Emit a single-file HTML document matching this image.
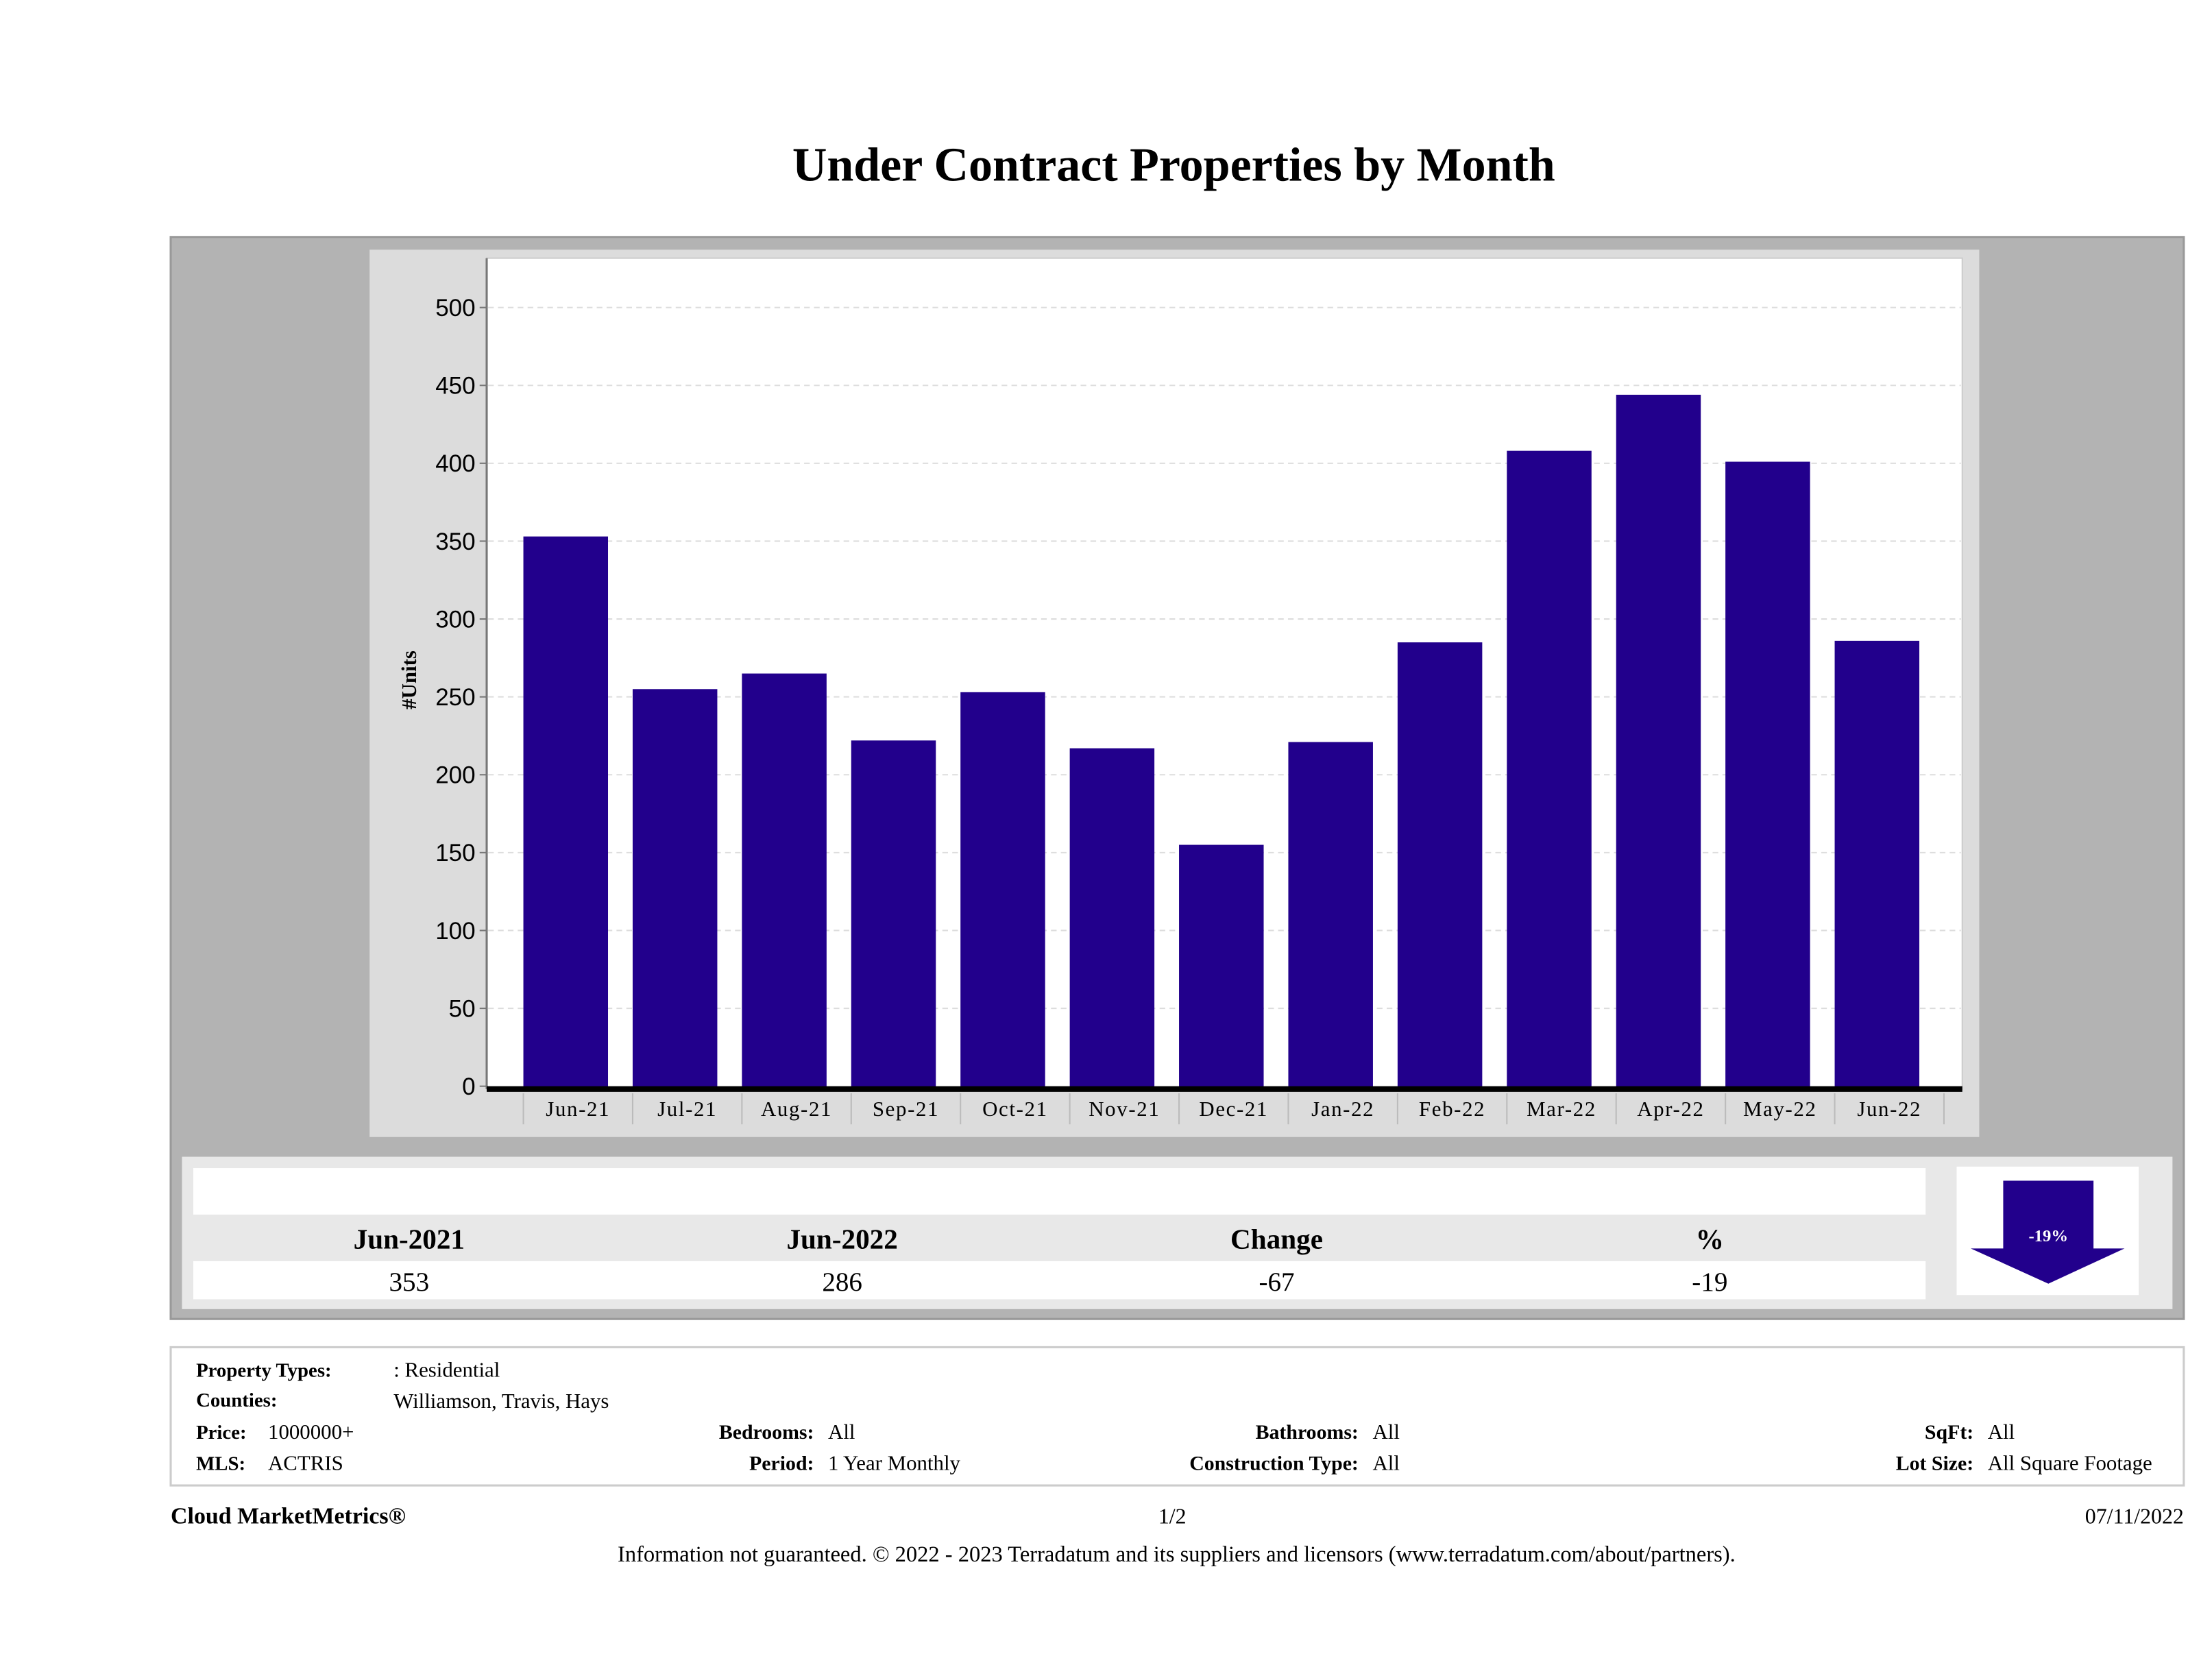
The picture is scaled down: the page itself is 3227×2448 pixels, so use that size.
<!DOCTYPE html>
<html><head><meta charset="utf-8"><style>
html,body{margin:0;padding:0;background:#fff;}
svg{display:block;}
.serif{font-family:"Liberation Serif",serif;}
.sans{font-family:"Liberation Sans",sans-serif;}
</style></head>
<body>
<svg id="page" width="3227" height="2448" viewBox="0 0 1568 1189.5" preserveAspectRatio="none" xmlns="http://www.w3.org/2000/svg">
<text class="serif" x="832" y="128" text-anchor="middle" font-size="34" font-weight="bold" fill="#000">Under Contract Properties by Month</text>
<rect x="121" y="168" width="1427" height="767" fill="#b3b3b3" stroke="#999" stroke-width="1.5"/>
<rect x="262" y="177" width="1141" height="629" fill="#dcdcdc"/>
<rect x="345" y="183" width="1046" height="589" fill="#fff" stroke="#ccc"/>
<line x1="345" y1="183" x2="345" y2="772" stroke="#777" stroke-width="1.5"/>
<g id="grid"></g>
<g id="bars"></g>
<line x1="345" y1="772" x2="1391" y2="772" stroke="#000" stroke-width="4"/>
<g id="xlabels"></g>
<text class="serif" transform="translate(295,482) rotate(-90)" text-anchor="middle" font-size="15" font-weight="bold">#Units</text>

<rect x="129" y="820" width="1411" height="108" fill="#e8e8e8"/>
<rect x="137" y="828" width="1228" height="33" fill="#fff"/>
<rect x="137" y="894" width="1228" height="27" fill="#fff"/>
<g class="serif" font-size="20" text-anchor="middle">
<text x="290" y="885" font-weight="bold">Jun-2021</text>
<text x="597" y="885" font-weight="bold">Jun-2022</text>
<text x="905" y="885" font-weight="bold">Change</text>
<text x="1212" y="885" font-weight="bold">%</text>
<text x="290" y="915" font-size="19">353</text>
<text x="597" y="915" font-size="19">286</text>
<text x="905" y="915" font-size="19">-67</text>
<text x="1212" y="915" font-size="19">-19</text>
</g>
<rect x="1387" y="827" width="129" height="91" fill="#fff"/>
<path d="M1420,837 H1484 V885 H1506 L1452,910 L1397,885 H1420 Z" fill="#22008c"/>
<text class="serif" x="1452" y="880" text-anchor="middle" font-size="12" font-weight="bold" fill="#fff">-19%</text>

<rect x="121" y="955" width="1427" height="98" fill="#fff" stroke="#ccc" stroke-width="1.5"/>
<g class="serif" font-size="15" fill="#000">
<text x="139" y="976" font-weight="bold" font-size="14">Property Types:</text>
<text x="279" y="976">: Residential</text>
<text x="139" y="997" font-weight="bold" font-size="14">Counties:</text>
<text x="279" y="998">Williamson, Travis, Hays</text>
<text x="139" y="1020" font-weight="bold" font-size="14">Price:</text>
<text x="190" y="1020">1000000+</text>
<text x="139" y="1042" font-weight="bold" font-size="14">MLS:</text>
<text x="190" y="1042">ACTRIS</text>
<text x="577" y="1020" font-weight="bold" text-anchor="end" font-size="14.5">Bedrooms:</text>
<text x="587" y="1020">All</text>
<text x="577" y="1042" font-weight="bold" text-anchor="end" font-size="14.5">Period:</text>
<text x="587" y="1042">1 Year Monthly</text>
<text x="963" y="1020" font-weight="bold" text-anchor="end" font-size="14.5">Bathrooms:</text>
<text x="973" y="1020">All</text>
<text x="963" y="1042" font-weight="bold" text-anchor="end" font-size="14.5">Construction Type:</text>
<text x="973" y="1042">All</text>
<text x="1399" y="1020" font-weight="bold" text-anchor="end" font-size="14.5">SqFt:</text>
<text x="1409" y="1020">All</text>
<text x="1399" y="1042" font-weight="bold" text-anchor="end" font-size="14.5">Lot Size:</text>
<text x="1409" y="1042">All Square Footage</text>
</g>
<g class="serif" font-size="15.5">
<text x="121" y="1080" font-weight="bold" font-size="16.5">Cloud MarketMetrics®</text>
<text x="831" y="1080" text-anchor="middle">1/2</text>
<text x="1548" y="1080" text-anchor="end">07/11/2022</text>
<text x="834" y="1107" text-anchor="middle" font-size="15.8">Information not guaranteed. © 2022 - 2023 Terradatum and its suppliers and licensors (www.terradatum.com/about/partners).</text>
</g>
</svg>
<script>
const categories = ["Jun-21","Jul-21","Aug-21","Sep-21","Oct-21","Nov-21","Dec-21","Jan-22","Feb-22","Mar-22","Apr-22","May-22","Jun-22"];
const units = [353,255,265,222,253,217,155,221,285,408,444,401,286];
const yTicks = [0,50,100,150,200,250,300,350,400,450,500];

const NS = "http://www.w3.org/2000/svg";
const y0 = 770, yPer = (770-218)/500;
const yScale = v => y0 - v*yPer;
const bandStart = 371, bandW = (1378-371)/13, barW = 60;
const xScale = i => bandStart + i*bandW;

const grid = document.getElementById('grid');
yTicks.forEach(t => {
  const y = yScale(t);
  if (t > 0) {
    const g = document.createElementNS(NS,'line');
    
    
    g.setAttribute('x1',346); g.setAttribute('x2',1390); g.setAttribute('y1',y); g.setAttribute('y2',y);
    g.setAttribute('stroke','#ddd'); g.setAttribute('stroke-dasharray','4,3');
    grid.appendChild(g);
  }
  const tk = document.createElementNS(NS,'line');
  
  
  tk.setAttribute('x1',340); tk.setAttribute('x2',345); tk.setAttribute('y1',y); tk.setAttribute('y2',y);
  tk.setAttribute('stroke','#777');
  grid.appendChild(tk);
  const tx = document.createElementNS(NS,'text');
  
  
  tx.setAttribute('x',337); tx.setAttribute('y',y+6);
  tx.setAttribute('text-anchor','end'); tx.setAttribute('font-size','17');
  tx.setAttribute('font-family','"Liberation Sans", sans-serif');
  tx.textContent = t;
  grid.appendChild(tx);
});

const bars = document.getElementById('bars');
const xl = document.getElementById('xlabels');
categories.forEach((c,i) => {
  const x = xScale(i);
  const r = document.createElementNS(NS,'rect');
  
  
  r.setAttribute('x', x); r.setAttribute('width', barW);
  r.setAttribute('y', yScale(units[i])); r.setAttribute('height', yScale(0)-yScale(units[i]) + 2);
  r.setAttribute('fill','#22008c');
  bars.appendChild(r);
  const sep = document.createElementNS(NS,'line');
  
  
  sep.setAttribute('x1',x); sep.setAttribute('x2',x); sep.setAttribute('y1',775); sep.setAttribute('y2',797);
  sep.setAttribute('stroke','#bbb');
  xl.appendChild(sep);
  const t = document.createElementNS(NS,'text');
  
  
  t.setAttribute('x', x + bandW/2); t.setAttribute('y', 791);
  t.setAttribute('text-anchor','middle'); t.setAttribute('font-size','15');
  t.setAttribute('letter-spacing','0.8');
  t.setAttribute('font-family','"Liberation Serif", serif');
  t.textContent = c;
  xl.appendChild(t);
});
const last = document.createElementNS(NS,'line');


last.setAttribute('x1',1378); last.setAttribute('x2',1378); last.setAttribute('y1',775); last.setAttribute('y2',797);
last.setAttribute('stroke','#bbb');
xl.appendChild(last);
</script>
</body></html>
